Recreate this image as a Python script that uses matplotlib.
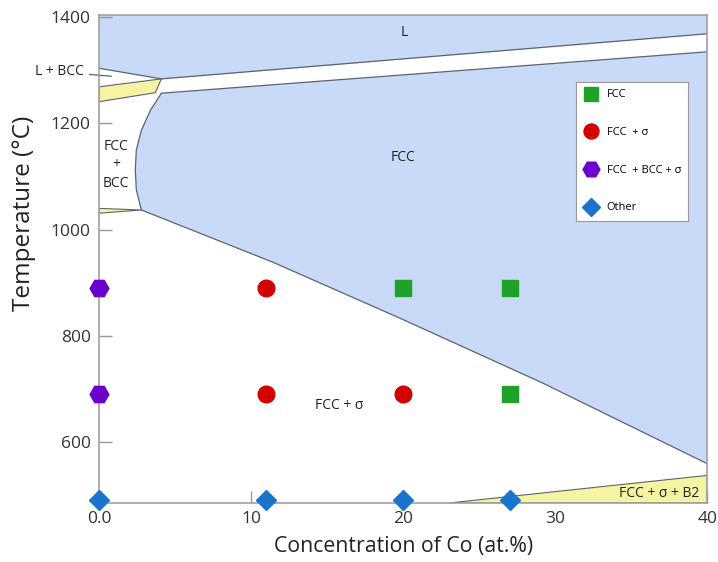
import matplotlib
matplotlib.use("Agg")
import matplotlib.pyplot as plt
from matplotlib.patches import Polygon

plt.rcParams['font.family'] = ['Open Sans', 'DejaVu Sans']

# ---- data ----
x_ticks = [0, 10, 20, 30, 40]
x_ticklabels = ["0.0", "10", "20", "30", "40"]
y_ticks = [600, 800, 1000, 1200, 1400]

# phase boundaries (Co at.%, temperature °C)
liq_x = [0, 4.1, 40]
liq_T = [1304, 1284, 1369]
sol_x = [4.1, 40]
sol_T = [1257, 1335]
fccl_x = [4.1, 3.38, 2.78, 2.45, 2.38, 2.45, 2.78]
fccl_T = [1257, 1225, 1187, 1150, 1112, 1075, 1037]
solv_x = [2.78, 11.4, 19.8, 29.1, 40]
solv_T = [1037, 939, 833, 712, 559]
bcc_x = [0, 4.1, 3.7, 0]
bcc_T = [1269, 1284, 1258, 1241]
sliver_x = [0, 2.78, 0]
sliver_T = [1040, 1037, 1031]
b2_x = [23.0, 40, 40]
b2_T = [485, 537, 485]

# experimental points
fcc_x = [20, 27, 27]
fcc_T = [890, 890, 690]
fccs_x = [11, 11, 20]
fccs_T = [890, 690, 690]
fbs_x = [0, 0]
fbs_T = [890, 690]
oth_x = [0, 11, 20, 27]
oth_T = [490, 490, 490, 490]

XMIN, XMAX = 0, 40
YMIN, YMAX = 485, 1404

blue = '#c9d9f8'
yellow = '#f6f3a2'
lc = '#5b6570'

fig = plt.figure(figsize=(7.18, 5.62), dpi=100)
ax = fig.add_axes([0.138, 0.105, 0.847, 0.868])
ax.set_xlim(XMIN, XMAX)
ax.set_ylim(YMIN, YMAX)

# L region
ax.fill_between(liq_x, liq_T, YMAX + 50, color=blue, lw=0, zorder=1)
# FCC region
fcc_poly = list(zip(sol_x, sol_T)) + list(zip(solv_x[::-1], solv_T[::-1])) + list(zip(fccl_x[::-1], fccl_T[::-1]))
ax.add_patch(Polygon(fcc_poly, closed=True, facecolor=blue, edgecolor='none', zorder=1))
# yellow regions
for px, pT in [(bcc_x, bcc_T), (sliver_x, sliver_T), (b2_x, b2_T)]:
    ax.add_patch(Polygon(list(zip(px, pT)), closed=True, facecolor=yellow, edgecolor=lc, lw=0.8, zorder=2))

# lines
for px, pT in [(liq_x, liq_T), (sol_x, sol_T), (fccl_x, fccl_T), (solv_x, solv_T)]:
    ax.plot(px, pT, color=lc, lw=0.9, zorder=3)

# markers
ms_kw = dict(linestyle='none', clip_on=False, zorder=5)
ax.plot(fcc_x, fcc_T, marker='s', color='#1fa22a', markersize=11.5, label='FCC', **ms_kw)
ax.plot(fccs_x, fccs_T, marker='o', color='#d30000', markersize=12, label='FCC  + σ', **ms_kw)
ax.plot(fbs_x, fbs_T, marker='H', color='#6a00cc', markersize=13.5, label='FCC  + BCC + σ', **ms_kw)
ax.plot(oth_x, oth_T, marker='D', color='#1a74cc', markersize=10, label='Other', **ms_kw)

leg = ax.legend(loc='upper left', bbox_to_anchor=(0.775, 0.874), fontsize=8,
                labelspacing=2.4, handletextpad=0.7, borderpad=0.65,
                fancybox=False, framealpha=1, edgecolor='#999999',
                handlelength=1.4, markerscale=0.9)
leg.get_frame().set_linewidth(0.8)
leg.set_zorder(6)

# region labels
tc = '#222222'
ax.text(20.1, 1371, 'L', fontsize=10, ha='center', va='center', color=tc, zorder=4)
ax.text(20.0, 1135, 'FCC', fontsize=10, ha='center', va='center', color=tc, zorder=4)
ax.text(1.1, 1122, 'FCC\n+\nBCC', fontsize=10, ha='center', va='center', color=tc,
        linespacing=1.3, zorder=4)
ax.text(15.8, 669, 'FCC + σ', fontsize=10, ha='center', va='center', color=tc, zorder=4)
ax.text(39.5, 503, 'FCC + σ + B2', fontsize=10, ha='right', va='center', color=tc, zorder=4)
ax.annotate('L + BCC', xy=(0.8, 1289), xytext=(-1.0, 1297), ha='right', va='center',
            fontsize=10, color=tc, annotation_clip=False,
            arrowprops=dict(arrowstyle='-', color=lc, lw=0.9, shrinkA=2, shrinkB=0))

# axes styling
ax.set_xticks(x_ticks)
ax.set_xticklabels(x_ticklabels)
ax.set_yticks(y_ticks)
ax.tick_params(direction='in', length=9, width=1, color='#999999', labelsize=12.5,
               labelcolor='#333333', pad=6)
for s in ax.spines.values():
    s.set_color('#a0a0a0')
    s.set_linewidth(1.2)
    s.set_zorder(4)
ax.set_xlabel('Concentration of Co (at.%)', fontsize=15.3, color='#222222', labelpad=6)
ax.set_ylabel('Temperature (°C)', fontsize=17.5, color='#222222')
ax.yaxis.set_label_coords(-0.104, 0.594)

fig.savefig('out.png', dpi=100)
